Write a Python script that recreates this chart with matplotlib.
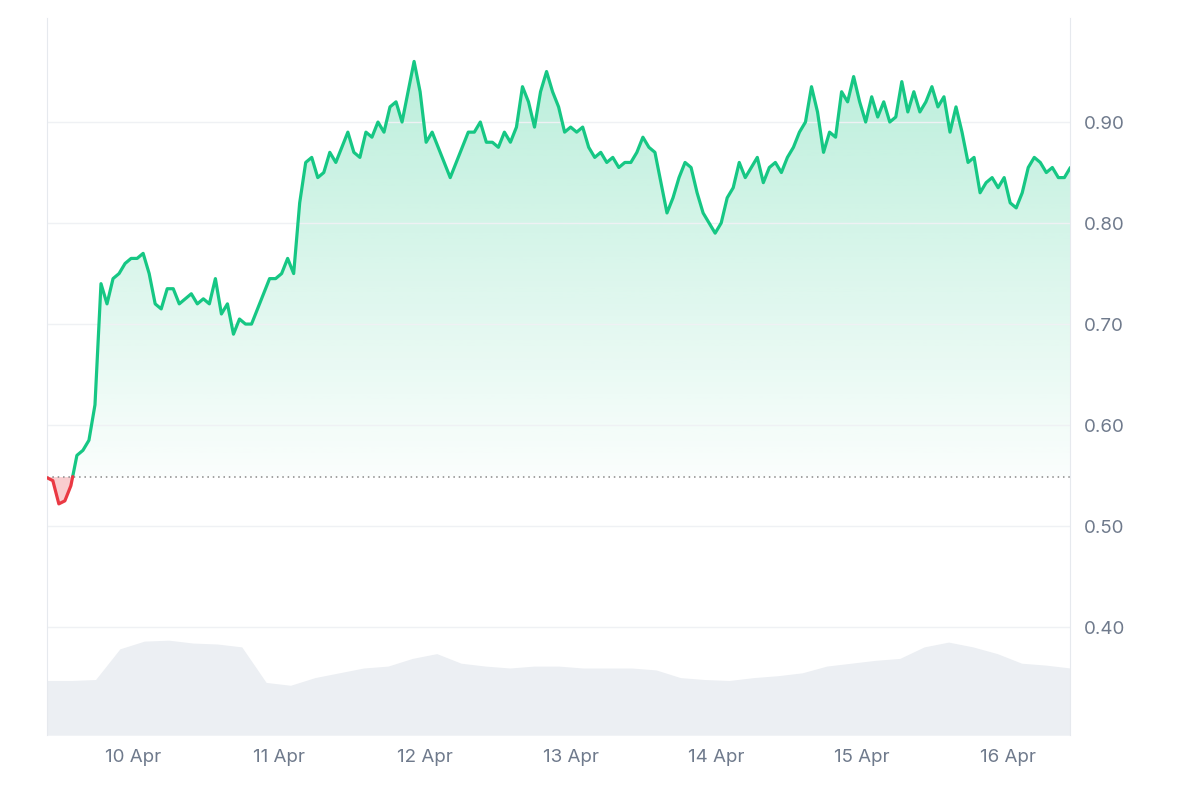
import numpy as np
import pandas as pd
import matplotlib
matplotlib.use("Agg")
import matplotlib.pyplot as plt
import matplotlib.dates as mdates
from matplotlib.patches import Polygon

prices = [0.548,0.545,0.522,0.525,0.540,0.570,0.575,0.585,0.620,0.740,0.720,0.745,0.750,0.760,0.765,0.765,0.770,0.750,
0.720,0.715,0.735,0.735,0.720,0.725,0.730,0.720,0.725,0.720,0.745,0.710,0.720,0.690,0.705,0.700,0.700,0.715,0.730,
0.745,0.745,0.750,0.765,0.750,0.820,0.860,0.865,0.845,0.850,0.870,0.860,0.875,0.890,0.870,0.865,0.890,0.885,0.900,
0.890,0.915,0.920,0.900,0.930,0.960,0.930,0.880,0.890,0.875,0.860,0.845,0.860,0.875,0.890,0.890,0.900,0.880,0.880,
0.875,0.890,0.880,0.895,0.935,0.920,0.895,0.930,0.950,0.930,0.915,0.890,0.895,0.890,0.895,0.875,0.865,0.870,0.860,
0.865,0.855,0.860,0.860,0.870,0.885,0.875,0.870,0.840,0.810,0.825,0.845,0.860,0.855,0.830,0.810,0.800,0.790,0.800,
0.825,0.835,0.860,0.845,0.855,0.865,0.840,0.855,0.860,0.850,0.865,0.875,0.890,0.900,0.935,0.910,0.870,0.890,0.885,
0.930,0.920,0.945,0.920,0.900,0.925,0.905,0.920,0.900,0.905,0.940,0.910,0.930,0.910,0.920,0.935,0.915,0.925,0.890,
0.915,0.890,0.860,0.865,0.830,0.840,0.845,0.835,0.845,0.820,0.815,0.830,0.855,0.865,0.860,0.850,0.855,0.845,0.845,0.855]
volumes = [57,57,58,90,98,99,96,95,92,55,52,60,65,70,72,80,85,75,72,70,72,72,70,70,70,68,60,58,57,60,62,65,72,75,78,80,92,97,92,85,75,73,70]
baseline = 0.549
start, end = pd.Timestamp("2024-04-09 09:50"), pd.Timestamp("2024-04-16 10:15")
xticks = pd.date_range("2024-04-10", "2024-04-16", freq="D")
xticklabels = ["10 Apr","11 Apr","12 Apr","13 Apr","14 Apr","15 Apr","16 Apr"]
yticks = [0.40,0.50,0.60,0.70,0.80,0.90]

plt.rcParams['font.family'] = ['Inter', 'DejaVu Sans']
t = pd.to_datetime(np.linspace(start.value, end.value, len(prices)))
tv = pd.to_datetime(np.linspace(start.value, end.value, len(volumes)))
x = mdates.date2num(t); xv = mdates.date2num(tv)
p = np.array(prices)

GREEN, RED = "#16c784", "#ea3943"
fig = plt.figure(figsize=(12, 8), dpi=100)
ax = fig.add_axes([0.039, 0.081, 0.853, 0.8965])
ax.set_ylim(0.293, 1.003); ax.set_xlim(x[0], x[-1])

xs, ys = [x[0]], [p[0]]
for i in range(1, len(p)):
    if (p[i-1]-baseline)*(p[i]-baseline) < 0:
        f = (baseline-p[i-1])/(p[i]-p[i-1])
        xs.append(x[i-1]+f*(x[i]-x[i-1])); ys.append(baseline)
    xs.append(x[i]); ys.append(p[i])
xs, ys = np.array(xs), np.array(ys)

verts = np.column_stack([np.r_[xs[0], xs, xs[-1]], np.r_[baseline, np.maximum(ys, baseline), baseline]])
poly = Polygon(verts, closed=True, facecolor="none", edgecolor="none")
ax.add_patch(poly)
grad = np.zeros((256, 1, 4)); c = matplotlib.colors.to_rgb(GREEN)
grad[..., :3] = c; grad[:, 0, 3] = np.linspace(0.30, 0.02, 256)
im = ax.imshow(grad, aspect="auto", extent=[x[0], x[-1], baseline, 0.97], origin="upper", zorder=1)
im.set_clip_path(poly)
ax.fill_between(xs, ys, baseline, where=ys <= baseline, color=RED, alpha=0.25, lw=0, zorder=1)

yg = np.where(ys >= baseline, ys, np.nan); yr = np.where(ys <= baseline, ys, np.nan)
ax.plot(xs, yg, color=GREEN, lw=2.3, zorder=3, solid_capstyle="round")
ax.plot(xs, yr, color=RED, lw=2.3, zorder=3, solid_capstyle="round")
ax.axhline(baseline, color="#888", lw=1.1, ls=(0, (1, 2.5)), zorder=2)

axv = ax.twinx()
axv.set_ylim(0, max(volumes) * 717 / 95)
axv.fill_between(xv, volumes, 0, color="#eceff3", lw=0, zorder=0)
axv.set_yticks([]); axv.set_zorder(0); ax.set_zorder(1); ax.patch.set_visible(False)
for s in axv.spines.values(): s.set_visible(False)

ax.set_yticks(yticks); ax.set_yticklabels([f"{v:.2f}" for v in yticks])
ax.yaxis.tick_right()
ax.set_xticks(mdates.date2num(xticks)); ax.set_xticklabels(xticklabels)
ax.tick_params(length=0, labelsize=13.5, colors="#6f7a8c", pad=10)
ax.grid(axis="y", color="#eff1f4", lw=1)
for k in ["top", "bottom"]: ax.spines[k].set_visible(False)
for k in ["left", "right"]: ax.spines[k].set_color("#e6e9ee")
fig.savefig("out.png", dpi=100, facecolor="white")
